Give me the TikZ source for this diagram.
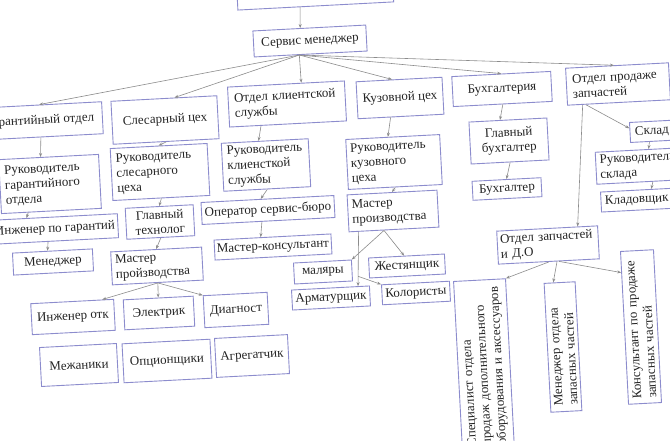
\documentclass[tikz,border=0pt]{standalone}
\usepackage{fontspec}
\setmainfont{Liberation Serif}
\usetikzlibrary{arrows.meta,calc}
\definecolor{boxc}{RGB}{140,140,205}
\definecolor{linec}{RGB}{140,140,140}
\definecolor{txtc}{RGB}{35,35,35}
\begin{document}
\begin{tikzpicture}[x=1pt,y=-1pt,
  bx/.style={draw=boxc, line width=0.9pt, fill=white, inner xsep=0pt, inner ysep=1pt, text=txtc,
             font=\fontsize{13}{15}\selectfont, align=center},
  hb/.style={bx, rotate=3},
  vb/.style={bx, rotate=93},
  sz/.style 2 args={minimum width=#1, minimum height=#2},
  ml/.style={text width=#1, align=left},
  con/.style={draw=linec, line width=0.6pt, -{Stealth[length=4pt,width=3pt]}}]
\useasboundingbox (0,0) rectangle (670,441);
\fill[white] (0,0) rectangle (670,441);
\clip (0,0) rectangle (670,441);

% top level
\node[hb, sz={156}{30}] (top) at (315,-9) {};
\node[hb, sz={113}{26}] (sm) at (310,41) {Сервис менеджер};

% departments
\node[hb, sz={125}{32}] (gar) at (40,121) {Гарантийный отдел};
\node[hb, sz={106}{43}] (sles) at (165,120) {Слесарный цех};
\node[hb, sz={117}{40}, ml=105] (kli) at (287,104) {Отдел клиентской\\службы};
\node[hb, sz={86}{37}] (kuz) at (400,98) {Кузовной цех};
\node[hb, sz={99}{30}] (buh) at (502,89) {Бухгалтерия};
\node[hb, sz={103}{37}, ml=91] (prod) at (618,84) {Отдел продаже\\запчастей};

% warranty
\node[hb, sz={100}{54}, ml=90] (rgar) at (50,184) {Руководитель\\гарантийного\\отдела};
\node[hb, sz={126}{24}] (igar) at (55,229) {Инженер по гарантий};
\node[hb, sz={80}{22}] (men) at (53,262) {Менеджер};

% fitter shop
\node[hb, sz={97}{52}, ml=87] (rsles) at (160,172) {Руководитель\\слесарного\\цеха};
\node[hb, sz={68}{31}] (gt) at (160,222) {Главный\\технолог};
\node[hb, sz={91}{33}, ml=83] (mp) at (157,266) {Мастер\\пройзводства};
\node[hb, sz={83}{31}] (iotk) at (73,317) {Инженер отк};
\node[hb, sz={70}{30}] (el) at (159,313) {Электрик};
\node[hb, sz={64}{32}] (diag) at (236,310) {Диагност};
\node[hb, sz={77}{39}] (mezh) at (79,365) {Межаники};
\node[hb, sz={88}{39}] (opc) at (167,361) {Опционщики};
\node[hb, sz={73}{39}] (agr) at (252,356) {Агрегатчик};

% client service
\node[hb, sz={87}{48}, ml=77] (rkli) at (266,165) {Руководитель\\клиенсткой\\службы};
\node[hb, sz={133}{22}] (oper) at (268,210) {Оператор сервис-бюро};
\node[hb, sz={117}{20}] (mk) at (273,247) {Мастер-консультант};

% body shop
\node[hb, sz={94}{50}, ml=86] (rkuz) at (394,162) {Руководитель\\кузовного\\цеха};
\node[hb, sz={90}{37}, ml=82] (mpk) at (393,211) {Мастер\\производства};
\node[hb, sz={58}{21}] (mal) at (323,272) {маляры};
\node[hb, sz={76}{20}] (zh) at (407,266) {Жестянщик};
\node[hb, sz={78}{20}] (arm) at (331,298) {Арматурщик};
\node[hb, sz={68}{20}] (kol) at (416,293) {Колористы};

% accounting
\node[hb, sz={78}{42}] (gb) at (509,141) {Главный\\бухгалтер};
\node[hb, sz={69}{19}] (b) at (507,189) {Бухгалтер};

% parts
\node[hb, sz={56}{20}, ml=46] (skl) at (658,131) {Склад};
\node[hb, sz={86}{32}, ml=78] (rskl) at (639,166) {Руководитель\\склада};
\node[hb, sz={78}{20}, ml=70] (klad) at (640,200) {Кладовщик};
\node[hb, sz={101}{33}, ml=95] (ozch) at (548,245) {Отдел запчастей\\и Д.О};
\node[vb, sz={170}{52}, ml=162] (spec) at (484,365) {Специалист отдела\\продаж дополнительного\\оборудования и аксессуаров};
\node[vb, sz={129}{31}, ml=117] (mzch) at (563,347) {Менеджер отдела\\запасных частей};
\node[vb, sz={153}{33}, ml=143] (kons) at (641,327) {Консультант по продаже\\запасных частей};

% connectors
\draw[con] ($(top.south west)!0.4!(top.south east)$) -- ($(sm.north west)!0.42!(sm.north east)$);
\coordinate (smb) at ($(sm.south west)!0.4!(sm.south east)$);
\draw[con] (smb) -- (gar.north);
\draw[con] (smb) -- ($(sles.north west)!0.6!(sles.north east)$);
\draw[con] (smb) -- ($(kli.north west)!0.63!(kli.north east)$);
\draw[con] (smb) -- ($(kuz.north west)!0.42!(kuz.north east)$);
\draw[con] (smb) -- (buh.north);
\draw[con] (smb) -- ($(prod.north west)!0.47!(prod.north east)$);

\draw[con] (gar.south) -- ($(rgar.north west)!0.42!(rgar.north east)$);
\draw[con] ($(rgar.south west)!0.27!(rgar.south east)$) -- ($(igar.north west)!0.28!(igar.north east)$);
\draw[con] ($(igar.south west)!0.44!(igar.south east)$) -- ($(men.north west)!0.44!(men.north east)$);

\draw[con] (sles.south) -- (rsles.north);
\draw[con] (rsles.south) -- (gt.north);
\draw[con] (gt.south) -- (mp.north);
\draw[con] (mp.south) -- ($(iotk.north west)!0.86!(iotk.north east)$);
\draw[con] (mp.south) -- (el.north);
\draw[con] (mp.south) -- (diag.north west);

\draw[con] ($(kli.south west)!0.27!(kli.south east)$) -- ($(rkli.north west)!0.43!(rkli.north east)$);
\draw[con] (rkli.south) -- ($(oper.north west)!0.45!(oper.north east)$);
\draw[con] ($(oper.south west)!0.45!(oper.south east)$) -- ($(mk.north west)!0.4!(mk.north east)$);

\draw[con] ($(kuz.south west)!0.38!(kuz.south east)$) -- ($(rkuz.north west)!0.45!(rkuz.north east)$);
\draw[con] (rkuz.south) -- (mpk.north);
\coordinate (mpb) at ($(mpk.south west)!0.39!(mpk.south east)$);
\coordinate (mpa) at ($(mpk.south west)!0.11!(mpk.south east)$);
\draw[con] (mpb) -- (mal.north east);
\draw[con] (mpb) -- ($(zh.north west)!0.47!(zh.north east)$);
\coordinate (armt) at ($(arm.north west)!0.85!(arm.north east)$);
\draw[con] (mpa) -- (armt);
\coordinate (kb) at ($(mpa)!0.82!(armt)$);
\draw[con] (kb) -- (kol.north west);

\draw[con] (buh.south) -- ($(gb.north west)!0.4!(gb.north east)$);
\draw[con] (gb.south) -- (b.north);

\draw[con] ($(prod.south west)!0.18!(prod.south east)$) -- ($(skl.north west)!0.3!(skl.south west)$);
\draw[con] ($(prod.south west)!0.15!(prod.south east)$) -- ($(ozch.north west)!0.8!(ozch.north east)$);
\draw[con] ($(skl.south west)!0.34!(skl.south east)$) -- ($(rskl.north west)!0.62!(rskl.north east)$);
\draw[con] ($(rskl.south west)!0.65!(rskl.south east)$) -- ($(klad.north west)!0.65!(klad.north east)$);
\draw[con] (ozch.south) -- (spec.south east);
\draw[con] ($(ozch.south west)!0.58!(ozch.south east)$) -- ($(mzch.north east)!0.3!(mzch.south east)$);
\draw[con] ($(ozch.south west)!0.6!(ozch.south east)$) -- ($(kons.north)!0.72!(kons.north east)$);
\end{tikzpicture}
\end{document}
